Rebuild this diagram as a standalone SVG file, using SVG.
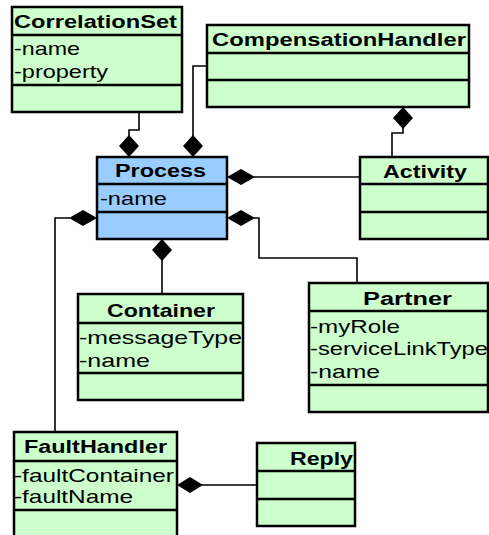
<svg xmlns="http://www.w3.org/2000/svg" width="489" height="535" viewBox="0 0 489 535">
<style>
.g{fill:#CCFFCC;stroke:#000;stroke-width:2.5}
.b{fill:#99CCFF;stroke:#000;stroke-width:2.5}
.d{stroke:#000;stroke-width:2.5}
.t{font-family:"Liberation Sans",Arial,sans-serif;font-weight:bold;font-size:18px;fill:#000}
.a{font-family:"Liberation Sans",Arial,sans-serif;font-size:19px;fill:#000}
.c{fill:none;stroke:#000;stroke-width:1.6}
.m{fill:#000;stroke:none}
</style>
<g id="connectors">
<polyline class="c" points="139,112 139,130 129,130 129,136"/>
<polygon class="m" points="129,135 139,146 129,157 119,146"/>
<polyline class="c" points="207,66 193,66 193,136"/>
<polygon class="m" points="193,135 203,146 193,157 183,146"/>
<line class="c" x1="254" y1="177" x2="360" y2="177"/>
<polygon class="m" points="227,177 241,169 255,177 241,185"/>
<polyline class="c" points="392,157 392,133 403,133 403,128"/>
<polygon class="m" points="403,107 413,118 403,129 393,118"/>
<polyline class="c" points="254,218 259,218 259,258 357,258 357,283"/>
<polygon class="m" points="227,218 241,210 255,218 241,226"/>
<line class="c" x1="162" y1="260" x2="162" y2="294"/>
<polygon class="m" points="162,239 172,250 162,261 152,250"/>
<polyline class="c" points="70,218 55,218 55,432"/>
<polygon class="m" points="97,218 83,210 69,218 83,226"/>
<line class="c" x1="202" y1="485" x2="257" y2="485"/>
<polygon class="m" points="177,485 190,477 203,485 190,493"/>
</g>
<g id="CorrelationSet">
<rect class="g" x="12" y="7" width="170" height="105"/>
<line class="d" x1="12" y1="35" x2="182" y2="35"/>
<line class="d" x1="12" y1="85" x2="182" y2="85"/>
<text class="t" x="14" y="28" textLength="163" lengthAdjust="spacingAndGlyphs">CorrelationSet</text>
<text class="a" x="14" y="55" textLength="66" lengthAdjust="spacingAndGlyphs">-name</text>
<text class="a" x="14" y="78" textLength="94" lengthAdjust="spacingAndGlyphs">-property</text>
</g>
<g id="CompensationHandler">
<rect class="g" x="207" y="25" width="262" height="82"/>
<line class="d" x1="207" y1="53" x2="469" y2="53"/>
<line class="d" x1="207" y1="80" x2="469" y2="80"/>
<text class="t" x="212" y="46" textLength="254" lengthAdjust="spacingAndGlyphs">CompensationHandler</text>
</g>
<g id="Process">
<rect class="b" x="97" y="157" width="130" height="82"/>
<line class="d" x1="97" y1="184" x2="227" y2="184"/>
<line class="d" x1="97" y1="212" x2="227" y2="212"/>
<text class="t" x="115" y="177" textLength="91" lengthAdjust="spacingAndGlyphs">Process</text>
<text class="a" x="100" y="205" textLength="67" lengthAdjust="spacingAndGlyphs">-name</text>
</g>
<g id="Activity">
<rect class="g" x="360" y="157" width="128" height="82"/>
<line class="d" x1="360" y1="184" x2="488" y2="184"/>
<line class="d" x1="360" y1="212" x2="488" y2="212"/>
<text class="t" x="383" y="178" textLength="84" lengthAdjust="spacingAndGlyphs">Activity</text>
</g>
<g id="Container">
<rect class="g" x="78" y="294" width="165" height="106"/>
<line class="d" x1="78" y1="323" x2="243" y2="323"/>
<line class="d" x1="78" y1="373" x2="243" y2="373"/>
<text class="t" x="107" y="317" textLength="108" lengthAdjust="spacingAndGlyphs">Container</text>
<text class="a" x="79" y="344" textLength="163" lengthAdjust="spacingAndGlyphs">-messageType</text>
<text class="a" x="79" y="367" textLength="71" lengthAdjust="spacingAndGlyphs">-name</text>
</g>
<g id="Partner">
<rect class="g" x="309" y="283" width="179" height="129"/>
<line class="d" x1="309" y1="311" x2="488" y2="311"/>
<line class="d" x1="309" y1="385" x2="488" y2="385"/>
<text class="t" x="363" y="305" textLength="89" lengthAdjust="spacingAndGlyphs">Partner</text>
<text class="a" x="310" y="333" textLength="90" lengthAdjust="spacingAndGlyphs">-myRole</text>
<text class="a" x="310" y="355" textLength="178" lengthAdjust="spacingAndGlyphs">-serviceLinkType</text>
<text class="a" x="310" y="378" textLength="70" lengthAdjust="spacingAndGlyphs">-name</text>
</g>
<g id="FaultHandler">
<rect class="g" x="14" y="432" width="163" height="110"/>
<line class="d" x1="14" y1="461" x2="177" y2="461"/>
<line class="d" x1="14" y1="510" x2="177" y2="510"/>
<text class="t" x="24" y="453" textLength="143" lengthAdjust="spacingAndGlyphs">FaultHandler</text>
<text class="a" x="14" y="482" textLength="160" lengthAdjust="spacingAndGlyphs">-faultContainer</text>
<text class="a" x="14" y="503" textLength="119" lengthAdjust="spacingAndGlyphs">-faultName</text>
</g>
<g id="Reply">
<rect class="g" x="257" y="443" width="98" height="83"/>
<line class="d" x1="257" y1="471" x2="355" y2="471"/>
<line class="d" x1="257" y1="499" x2="355" y2="499"/>
<text class="t" x="290" y="465" textLength="63" lengthAdjust="spacingAndGlyphs">Reply</text>
</g>
</svg>
